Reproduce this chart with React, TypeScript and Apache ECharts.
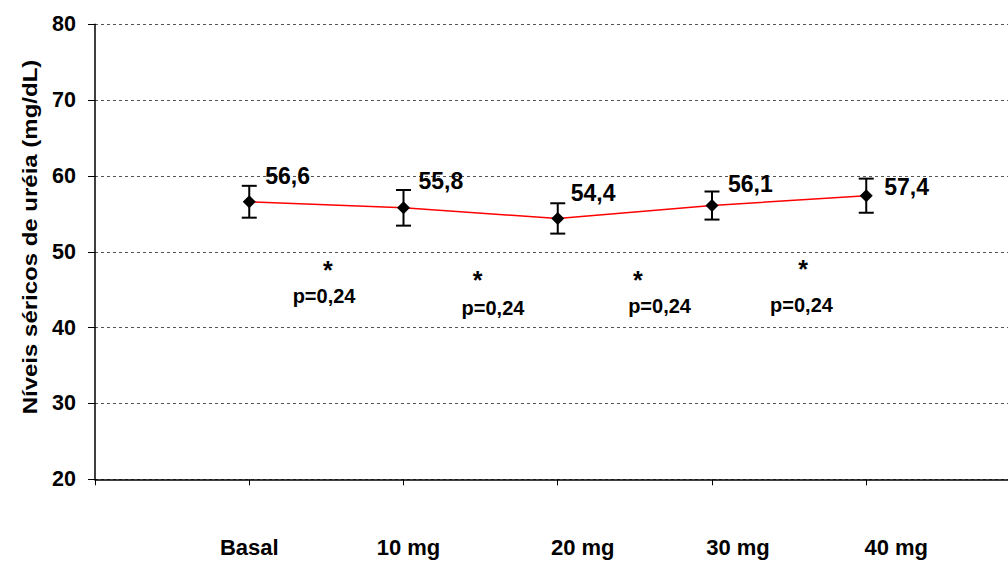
import React, { useEffect, useRef } from "react";
import * as echarts from "echarts";

const categories = ["Basal", "10 mg", "20 mg", "30 mg", "40 mg"];
const positions = [1, 2, 3, 4, 5];
const means = [56.6, 55.8, 54.4, 56.1, 57.4];
const errors = [2.1, 2.35, 2.0, 1.85, 2.25];
const meanLabels = ["56,6", "55,8", "54,4", "56,1", "57,4"];
const yTicks = [20, 30, 40, 50, 60, 70, 80];

const starX = [1.51, 2.48, 3.52, 4.59];
const starY = [47.6, 46.3, 46.3, 47.7];
const pX = [1.485, 2.58, 3.66, 4.58];
const pY = [44.2, 42.59, 42.88, 42.99];
const pText = ["p=0,24", "p=0,24", "p=0,24", "p=0,24"];

const labelOffsets = [
  [4.5, -26],
  [3.5, -27],
  [1.5, -25.5],
  [4.5, -22],
  [6.5, -9],
];
const xLabelShift = [0, 10, 50, 52, 60];

const FONT = "'Liberation Sans', Arial, sans-serif";

export default function App() {
  const ref = useRef<HTMLDivElement>(null);
  useEffect(() => {
    if (!ref.current) return;
    const chart = echarts.init(ref.current, null, { renderer: "svg" });
    const rich: any = {};
    categories.forEach((c, i) => {
      rich["l" + i] = {
        fontFamily: FONT,
        fontWeight: "bold",
        fontSize: 22,
        color: "#000",
        padding: [0, 0, 0, xLabelShift[i]],
      };
    });
    const plainText = {
      fontFamily: FONT,
      fontWeight: "bold",
      color: "#000",
      opacity: 1,
      textBorderWidth: 0,
      textShadowBlur: 0,
    };
    const option: any = {
      animation: false,
      backgroundColor: "#fff",
      grid: { left: 95, right: 0, top: 24.3, bottom: 81.7, containLabel: false },
      xAxis: {
        type: "value",
        min: 0,
        max: 5.919,
        interval: 1,
        axisLine: { show: true, lineStyle: { color: "#000", width: 1.5 } },
        axisTick: { show: true, length: 6, lineStyle: { color: "#000", width: 1 } },
        splitLine: { show: false },
        axisLabel: {
          margin: 57,
          rich,
          formatter: (v: number) => {
            const i = positions.indexOf(Math.round(v * 1000) / 1000);
            return i >= 0 ? `{l${i}|${categories[i]}}` : "";
          },
          showMaxLabel: false,
        },
      },
      yAxis: {
        type: "value",
        min: yTicks[0],
        max: yTicks[yTicks.length - 1],
        interval: 10,
        axisLine: { show: true, lineStyle: { color: "#000", width: 1.5 } },
        axisTick: { show: true, length: 7, lineStyle: { color: "#000", width: 1 } },
        axisLabel: {
          margin: 19,
          fontFamily: FONT,
          fontWeight: "bold",
          fontSize: 21.5,
          color: "#000",
        },
        splitLine: {
          show: true,
          lineStyle: { color: "#555", type: [3, 3], width: 1 },
        },
      },
      graphic: [
        {
          type: "text",
          x: 30,
          y: 237,
          rotation: Math.PI / 2,
          scaleX: 1.2,
          style: {
            text: "Níveis séricos de uréia (mg/dL)",
            fontFamily: FONT,
            fontWeight: "bold",
            fontSize: 20,
            fill: "#000",
            align: "center",
            verticalAlign: "middle",
          },
        },
      ],
      series: [
        {
          type: "custom",
          z: 3,
          data: positions.map((x, i) => [x, means[i] - errors[i], means[i] + errors[i]]),
          renderItem: (params: any, api: any) => {
            const x = api.value(0);
            const lo = api.coord([x, api.value(1)]);
            const hi = api.coord([x, api.value(2)]);
            const hw = 7.5;
            const style = { stroke: "#000", lineWidth: 2 };
            return {
              type: "group",
              children: [
                { type: "line", shape: { x1: lo[0], y1: lo[1], x2: hi[0], y2: hi[1] }, style },
                { type: "line", shape: { x1: lo[0] - hw, y1: lo[1], x2: lo[0] + hw, y2: lo[1] }, style },
                { type: "line", shape: { x1: hi[0] - hw, y1: hi[1], x2: hi[0] + hw, y2: hi[1] }, style },
              ],
            };
          },
        },
        {
          type: "line",
          z: 4,
          data: positions.map((x, i) => ({
            value: [x, means[i]],
            label: { offset: labelOffsets[i] },
          })),
          symbol: "diamond",
          symbolSize: 13,
          itemStyle: { color: "#000" },
          lineStyle: { color: "#ff0000", width: 1.5 },
          label: {
            show: true,
            position: "right",
            ...plainText,
            fontSize: 23,
            formatter: (p: any) => meanLabels[p.dataIndex],
          },
        },
        {
          type: "scatter",
          symbolSize: 0,
          silent: true,
          itemStyle: { opacity: 1, color: "#000" },
          data: starX.map((x, i) => [x, starY[i]]),
          label: {
            show: true,
            position: "inside",
            formatter: "*",
            ...plainText,
            fontSize: 25,
          },
        },
        {
          type: "scatter",
          symbolSize: 0,
          silent: true,
          itemStyle: { opacity: 1, color: "#000" },
          data: pX.map((x, i) => [x, pY[i]]),
          label: {
            show: true,
            position: "inside",
            formatter: (p: any) => pText[p.dataIndex],
            ...plainText,
            fontSize: 20,
          },
        },
      ],
    };
    chart.setOption(option);
    return () => chart.dispose();
  }, []);
  return (
    <div
      ref={ref}
      style={{ position: "fixed", left: 0, top: 0, width: 1008, height: 561, background: "#fff" }}
    />
  );
}
